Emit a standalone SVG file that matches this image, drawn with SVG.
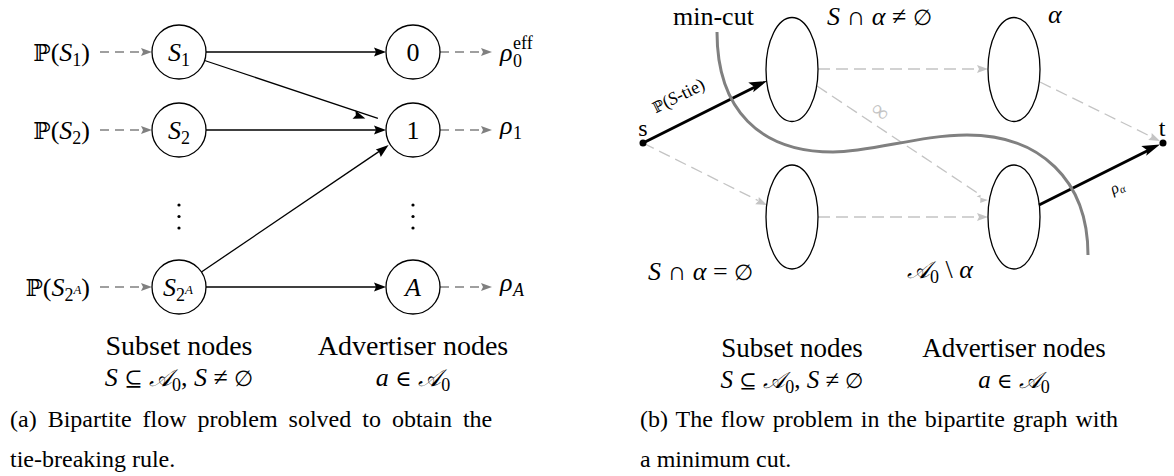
<svg xmlns="http://www.w3.org/2000/svg" width="1174" height="476" viewBox="0 0 1174 476">
<g id="connectors">
<g fill="none" stroke="#808080" stroke-width="1.3" stroke-dasharray="9 6">
<line x1="100" y1="52" x2="142" y2="52"/>
<line x1="100" y1="130" x2="142" y2="130"/>
<line x1="100" y1="287" x2="142" y2="287"/>
<line x1="440" y1="52" x2="482" y2="52"/>
<line x1="440" y1="130" x2="482" y2="130"/>
<line x1="440" y1="287" x2="482" y2="287"/>
</g>
<g fill="#808080">
<polygon points="152,52 141,48 143,52 141,56"/>
<polygon points="152,130 141,126 143,130 141,134"/>
<polygon points="152,287 141,283 143,287 141,291"/>
<polygon points="492,52 481,48 483,52 481,56"/>
<polygon points="492,130 481,126 483,130 481,134"/>
<polygon points="492,287 481,283 483,287 481,291"/>
</g>
<g fill="none" stroke="#000" stroke-width="1.3">
<line x1="206" y1="52" x2="376" y2="52"/>
<line x1="204.6" y1="60.5" x2="377.9" y2="118.3"/>
<line x1="206" y1="130" x2="376" y2="130"/>
<line x1="201.4" y1="272" x2="380.3" y2="150.6"/>
<line x1="206" y1="287" x2="376" y2="287"/>
</g>
<g fill="#000">
<polygon points="386,52 374,47.5 376,52 374,56.5"/>
<polygon points="386,52 374,47.5 376,52 374,56.5" transform="rotate(18.43 386 52) translate(1.4 69.5)"/>
<polygon points="386,130 374,125.5 376,130 374,134.5"/>
<polygon points="386,287 374,282.5 376,287 374,291.5"/>
<polygon points="388.6,145 375.8,149.6 378.9,151.6 380.8,157.1"/>
</g>
<g fill="none" stroke="#c4c4c4" stroke-width="1.3" stroke-dasharray="12 6">
<line x1="818" y1="69" x2="978" y2="69"/>
<line x1="817" y1="86" x2="979.7" y2="194.5"/>
<line x1="1040" y1="82" x2="1151" y2="136.6"/>
<line x1="643" y1="143" x2="758" y2="200.5"/>
<line x1="818" y1="217" x2="978" y2="217"/>
</g>
<g fill="#c4c4c4">
<polygon points="988,69 977,65 979,69 977,73"/>
<polygon points="988,217 977,213 979,217 977,221"/>
<polygon points="988,200 977,65 979,69 977,73" transform="translate(0 0)" style="display:none"/>
<polygon points="988,200 976.6,196.5 980.6,194.8 980.2,203.1" transform="rotate(0)"/>
<polygon points="1160,141 1148.2,140.1 1151.5,137.1 1151.7,132.9"/>
<polygon points="767,205 755.2,204.2 758.4,201.1 758.8,197"/>
</g>
<g fill="none" stroke="#000" stroke-width="3">
<line x1="643" y1="143" x2="755" y2="87"/>
<line x1="1039" y1="205" x2="1148" y2="150.5"/>
</g>
<g fill="#000">
<polygon points="767,81 753.2,92.2 754.5,87.1 748.3,82.4"/>
<polygon points="1160,144.5 1146.2,155.7 1147.5,150.6 1141.3,145.9"/>
</g>
<text font-family="Liberation Serif" font-size="18" x="681" y="101" text-anchor="middle" transform="rotate(-26.6 681 101)"><tspan font-family="DejaVu Serif" font-size="15">ℙ</tspan>(<tspan font-style="italic">S</tspan>-tie)</text>
<text font-family="Liberation Serif" font-size="24" fill="#c4c4c4" x="880" y="119" text-anchor="middle" transform="rotate(40 880 112)">∞</text>
<text font-family="Liberation Serif" font-size="16" font-style="italic" x="1117" y="192" text-anchor="middle" transform="rotate(-26.8 1117 187)">ρ<tspan font-size="11" dy="3">α</tspan></text>
</g>

<g id="left-labels">
<text font-family="Liberation Serif" font-size="26" x="90" y="61" text-anchor="end"><tspan font-family="DejaVu Serif" font-size="23">ℙ</tspan>(<tspan font-style="italic">S</tspan><tspan font-size="18" dy="5">1</tspan><tspan dy="-5">)</tspan></text>
<text font-family="Liberation Serif" font-size="26" x="90" y="139" text-anchor="end"><tspan font-family="DejaVu Serif" font-size="23">ℙ</tspan>(<tspan font-style="italic">S</tspan><tspan font-size="18" dy="5">2</tspan><tspan dy="-5">)</tspan></text>
<text font-family="Liberation Serif" font-size="26" x="90" y="296" text-anchor="end"><tspan font-family="DejaVu Serif" font-size="23">ℙ</tspan>(<tspan font-style="italic">S</tspan><tspan font-size="18" dy="5">2</tspan><tspan font-size="13" font-style="italic" dy="-7">A</tspan><tspan dy="2">)</tspan></text>
<text font-family="Liberation Serif" font-size="26" font-style="italic" x="500" y="61">ρ</text>
<text font-family="Liberation Serif" font-size="18" x="513" y="67">0</text>
<text font-family="Liberation Serif" font-size="18" x="513" y="49">eff</text>
<text font-family="Liberation Serif" font-size="26" font-style="italic" x="500" y="134">ρ</text>
<text font-family="Liberation Serif" font-size="18" x="513" y="139">1</text>
<text font-family="Liberation Serif" font-size="26" font-style="italic" x="500" y="291">ρ</text>
<text font-family="Liberation Serif" font-size="18" font-style="italic" x="513" y="296">A</text>
</g>

<g id="node-S1"><circle cx="179" cy="52" r="27" fill="#fff" stroke="#000" stroke-width="1.3"/><text font-family="Liberation Serif" font-size="26" x="179" y="61" text-anchor="middle"><tspan font-style="italic">S</tspan><tspan font-size="18" dy="5">1</tspan></text></g>
<g id="node-S2"><circle cx="179" cy="130" r="27" fill="#fff" stroke="#000" stroke-width="1.3"/><text font-family="Liberation Serif" font-size="26" x="179" y="139" text-anchor="middle"><tspan font-style="italic">S</tspan><tspan font-size="18" dy="5">2</tspan></text></g>
<g id="node-S2A"><circle cx="179" cy="287" r="27" fill="#fff" stroke="#000" stroke-width="1.3"/><text font-family="Liberation Serif" font-size="26" x="178" y="296" text-anchor="middle"><tspan font-style="italic">S</tspan><tspan font-size="18" dy="5">2</tspan><tspan font-size="13" font-style="italic" dy="-7">A</tspan></text></g>
<g id="node-0"><circle cx="413" cy="52" r="27" fill="#fff" stroke="#000" stroke-width="1.3"/><text font-family="Liberation Serif" font-size="26" x="413" y="61" text-anchor="middle">0</text></g>
<g id="node-1"><circle cx="413" cy="130" r="27" fill="#fff" stroke="#000" stroke-width="1.3"/><text font-family="Liberation Serif" font-size="26" x="413" y="139" text-anchor="middle">1</text></g>
<g id="node-A"><circle cx="413" cy="287" r="27" fill="#fff" stroke="#000" stroke-width="1.3"/><text font-family="Liberation Serif" font-size="26" font-style="italic" x="413" y="296" text-anchor="middle">A</text></g>
<g id="vdots-left"><circle cx="179" cy="205" r="1.6"/><circle cx="179" cy="216.5" r="1.6"/><circle cx="179" cy="228" r="1.6"/></g>
<g id="vdots-right"><circle cx="413" cy="205" r="1.6"/><circle cx="413" cy="216.5" r="1.6"/><circle cx="413" cy="228" r="1.6"/></g>

<g id="left-footer">
<text font-family="Liberation Serif" font-size="28" x="179" y="355" text-anchor="middle">Subset nodes</text>
<text font-family="Liberation Serif" font-size="26" x="179" y="386" text-anchor="middle"><tspan font-style="italic">S</tspan> <tspan font-family="DejaVu Serif" font-size="22">⊆</tspan> <tspan font-family="DejaVu Serif" font-size="24" font-style="italic">𝒜</tspan><tspan font-size="18" dy="5">0</tspan><tspan dy="-5">, </tspan><tspan font-style="italic">S</tspan> ≠ <tspan font-family="DejaVu Serif" font-size="22">∅</tspan></text>
<text font-family="Liberation Serif" font-size="28" x="413" y="355" text-anchor="middle">Advertiser nodes</text>
<text font-family="Liberation Serif" font-size="26" x="413" y="386" text-anchor="middle"><tspan font-style="italic">a</tspan> <tspan font-family="DejaVu Serif" font-size="22">∈</tspan> <tspan font-family="DejaVu Serif" font-size="24" font-style="italic">𝒜</tspan><tspan font-size="18" dy="5">0</tspan></text>
<text font-family="Liberation Serif" font-size="24" x="10" y="427" word-spacing="5">(a) Bipartite flow problem solved to obtain the</text>
<text font-family="Liberation Serif" font-size="24" x="10" y="467">tie-breaking rule.</text>
</g>

<g id="cut"><path fill="none" stroke="#808080" stroke-width="3" d="M717,32 C717,110 760,152 833,152 C872,152 920,135 967,135 C1040,135 1088,180 1088,255"/></g>

<g id="node-s"><circle cx="643" cy="143" r="3.5"/><text font-family="Liberation Serif" font-size="24" x="643" y="136" text-anchor="middle">s</text></g>
<g id="node-t"><circle cx="1163" cy="143" r="3.5"/><text font-family="Liberation Serif" font-size="24" x="1162" y="136" text-anchor="middle">t</text></g>
<g id="node-top-left"><ellipse cx="792" cy="69.5" rx="26" ry="52" fill="none" stroke="#000" stroke-width="1.3"/></g>
<g id="node-top-right"><ellipse cx="1014" cy="69.5" rx="26" ry="52" fill="none" stroke="#000" stroke-width="1.3"/></g>
<g id="node-bottom-left"><ellipse cx="792" cy="217" rx="26" ry="52" fill="none" stroke="#000" stroke-width="1.3"/></g>
<g id="node-bottom-right"><ellipse cx="1014" cy="217" rx="26" ry="52" fill="none" stroke="#000" stroke-width="1.3"/></g>

<g id="right-labels">
<text font-family="Liberation Serif" font-size="26" x="673" y="25">min-cut</text>
<text font-family="Liberation Serif" font-size="26" x="827" y="25"><tspan font-style="italic">S</tspan> ∩ <tspan font-style="italic">α</tspan> ≠ <tspan font-family="DejaVu Serif" font-size="22">∅</tspan></text>
<text font-family="Liberation Serif" font-size="26" font-style="italic" x="1048" y="23">α</text>
<text font-family="Liberation Serif" font-size="26" x="648" y="280"><tspan font-style="italic">S</tspan> ∩ <tspan font-style="italic">α</tspan> = <tspan font-family="DejaVu Serif" font-size="22">∅</tspan></text>
<text font-family="Liberation Serif" font-size="26" x="907" y="278"><tspan font-family="DejaVu Serif" font-size="24" font-style="italic">𝒜</tspan><tspan font-size="18" dy="5">0</tspan><tspan dy="-5"> \ </tspan><tspan font-style="italic">α</tspan></text>
</g>

<g id="right-footer">
<text font-family="Liberation Serif" font-size="27" x="792" y="357" text-anchor="middle">Subset nodes</text>
<text font-family="Liberation Serif" font-size="25" x="792" y="388" text-anchor="middle"><tspan font-style="italic">S</tspan> <tspan font-family="DejaVu Serif" font-size="21">⊆</tspan> <tspan font-family="DejaVu Serif" font-size="23" font-style="italic">𝒜</tspan><tspan font-size="18" dy="5">0</tspan><tspan dy="-5">, </tspan><tspan font-style="italic">S</tspan> ≠ <tspan font-family="DejaVu Serif" font-size="21">∅</tspan></text>
<text font-family="Liberation Serif" font-size="27" x="1014" y="357" text-anchor="middle">Advertiser nodes</text>
<text font-family="Liberation Serif" font-size="25" x="1014" y="388" text-anchor="middle"><tspan font-style="italic">a</tspan> <tspan font-family="DejaVu Serif" font-size="21">∈</tspan> <tspan font-family="DejaVu Serif" font-size="23" font-style="italic">𝒜</tspan><tspan font-size="18" dy="5">0</tspan></text>
<text font-family="Liberation Serif" font-size="24" x="640" y="427" word-spacing="2">(b) The flow problem in the bipartite graph with</text>
<text font-family="Liberation Serif" font-size="24" x="640" y="467">a minimum cut.</text>
</g>
</svg>
